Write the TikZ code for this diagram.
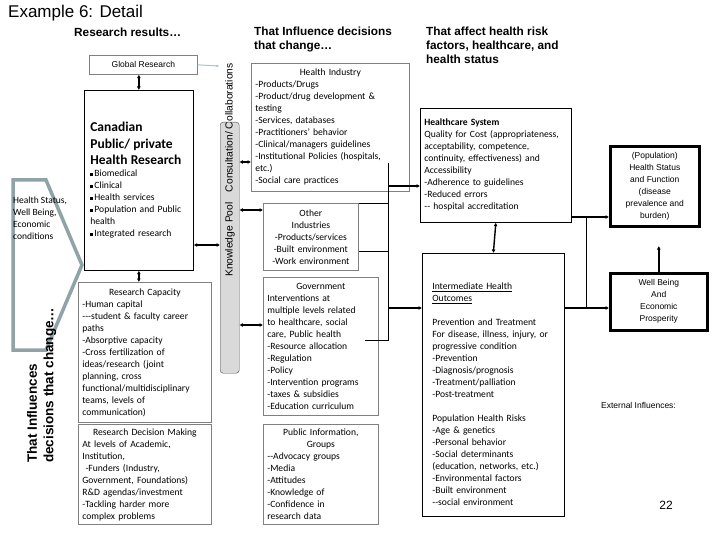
\documentclass[tikz,border=0pt]{standalone}
\usepackage{fontspec}
\newfontfamily\calibri{Carlito}
\newfontfamily\arial{Liberation Sans}
\usetikzlibrary{arrows.meta}

\definecolor{boxgray}{RGB}{128,128,128}
\definecolor{chevgray}{RGB}{143,163,168}
\definecolor{poolfill}{RGB}{217,217,217}
\definecolor{linkblue}{RGB}{170,195,205}

\newcommand{\sq}{\rule[0.25ex]{0.55ex}{0.55ex}\,}
\newcommand{\ctr}[1]{\makebox[\linewidth]{#1}}

\tikzset{
  box/.style={draw=boxgray, line width=0.7pt, anchor=north west, inner sep=4pt,
    align=left, font=\calibri\fontsize{9.6}{12}\selectfont},
  blackbox/.style={box, draw=black},
  bigbox/.style={draw=black, line width=2.6pt, anchor=north west, align=center,
    inner sep=2pt, font=\arial\fontsize{8.5}{12}\selectfont},
  head/.style={anchor=north west, align=left, inner sep=0pt,
    font=\arial\bfseries\fontsize{11.8}{14}\selectfont},
  dbl/.style={{Latex[length=3.5pt,width=4pt]}-{Latex[length=3.5pt,width=4pt]}, line width=1.4pt},
  link/.style={-{Latex[length=3.5pt,width=4pt]}, line width=1.4pt},
  bus/.style={line width=0.8pt},
}

\begin{document}
\begin{tikzpicture}[x=1pt,y=-1pt]
  \useasboundingbox[fill=white] (0,0) rectangle (720,540);

  % titles
  \node[anchor=north west, inner sep=0pt, font=\arial\fontsize{17}{20}\selectfont] (title) at (8,5) {Example 6: Detail};
  \node[head] (headres) at (74,28) {Research results…};
  \node[head] (headinf) at (254,27) {That Influence decisions\\that change…};
  \node[head] (headaff) at (426,27) {That affect health risk\\factors, healthcare, and\\health status};

  % left column
  \draw[chevgray, line width=3.5pt] (13,180) -- (46,180) -- (82,265) -- (46,350) -- (13,350) -- cycle;
  \node[anchor=north west, inner sep=0pt, align=left, font=\calibri\fontsize{9.5}{12}\selectfont] (status) at (13,197)
    {Health Status,\\Well Being,\\Economic\\conditions};
  \node[rotate=90, anchor=north west, inner sep=0pt, align=left, font=\arial\bfseries\fontsize{13.5}{16.5}\selectfont] (infl) at (27,463)
    {That Influences\\decisions that change…};

  \node[box, align=center, minimum width=108pt, minimum height=19pt, inner sep=2pt,
    font=\arial\fontsize{8.5}{10}\selectfont] (global) at (89,55) {Global Research};
  \node[blackbox, text width=97pt, minimum height=180pt, inner sep=6pt] (canada) at (84,90)
    {{\fontsize{13.5}{16.5}\selectfont\bfseries Canadian\\Public/ private\\Health Research\par}
     \sq Biomedical\\\sq Clinical\\\sq Health services\\\sq Population and Public\\health\\\sq Integrated research};
  \node[box, text width=125pt, minimum height=140pt] (rcap) at (78,282)
    {\ctr{Research Capacity}\\-Human capital\\---student \& faculty career\\paths\\-Absorptive capacity\\
     -Cross fertilization of\\ideas/research (joint\\planning, cross\\functional/multidisciplinary\\
     teams, levels of\\communication)};
  \node[box, text width=125pt, minimum height=100pt] (rdec) at (78,424)
    {\ctr{Research Decision Making}\\At levels of Academic,\\Institution,\\\ -Funders (Industry,\\
     Government, Foundations)\\R\&D agendas/investment\\-Tackling harder more\\complex problems};

  % knowledge pool
  \node[draw=black!70, fill=poolfill, rounded corners=3pt, minimum width=19pt, minimum height=251pt,
    anchor=north west, inner sep=0pt] (kpool) at (220,122) {};
  \node[rotate=90, inner sep=0pt, font=\arial\fontsize{10.3}{12}\selectfont] (kptext) at (230,170)
    {Knowledge Pool\quad Consultation/ Collaborations};

  % middle column
  \node[box, text width=150pt, minimum height=128pt] (hind) at (251,63)
    {\ctr{Health Industry}\\-Products/Drugs\\-Product/drug development \&\\testing\\-Services, databases\\
     -Practitioners’ behavior\\-Clinical/managers guidelines\\-Institutional Policies (hospitals,\\
     etc.)\\-Social care practices};
  \node[box, align=center, text width=87pt, minimum height=67pt] (other) at (263,203)
    {Other\\Industries\\-Products/services\\-Built environment\\-Work environment};
  \node[box, text width=107pt, minimum height=138pt] (gov) at (263,277)
    {\ctr{Government}\\Interventions at\\multiple levels related\\to healthcare, social\\care, Public health\\
     -Resource allocation\\-Regulation\\-Policy\\-Intervention programs\\-taxes \& subsidies\\
     -Education curriculum};
  \node[box, text width=107pt, minimum height=100pt] (pub) at (263,424)
    {\ctr{Public Information,}\\\ctr{Groups}\\--Advocacy groups\\-Media\\-Attitudes\\-Knowledge of\\
     -Confidence in\\research data};

  % right column
  \node[blackbox, text width=143pt, minimum height=114pt] (hcare) at (420,108)
    {\textbf{Healthcare System}\\Quality for Cost (appropriateness,\\acceptability, competence,\\
     continuity, effectiveness) and\\Accessibility\\-Adherence to guidelines\\-Reduced errors\\
     -- hospital accreditation};
  \node[blackbox, inner xsep=10pt, text width=122pt, minimum height=263pt] (inter) at (422,253)
    {\rule{0pt}{25pt}\underline{Intermediate Health}\\\underline{Outcomes}\\[12pt]Prevention and Treatment\\
     For disease, illness, injury, or\\progressive condition\\-Prevention\\-Diagnosis/prognosis\\
     -Treatment/palliation\\-Post-treatment\\[12pt]Population Health Risks\\-Age \& genetics\\
     -Personal behavior\\-Social determinants\\(education,  networks, etc.)\\-Environmental factors\\
     -Built environment\\--social environment};
  \node[bigbox, minimum width=89pt, minimum height=80pt] (pop) at (609,145)
    {(Population)\\Health Status\\and Function\\(disease\\prevalence and\\burden)};
  \node[bigbox, minimum width=97pt, minimum height=57pt] (wb) at (609,272)
    {Well Being\\And\\Economic\\Prosperity};
  \node[anchor=west, inner sep=0pt, font=\arial\fontsize{8.5}{10}\selectfont] (ext) at (601,405) {External Influences:};
  \node[inner sep=0pt, font=\arial\fontsize{12}{14}\selectfont] (page) at (666,505) {22};

  % connectors, left
  \coordinate (globend) at (219,66);
  \draw[linkblue, line width=1pt, -{Latex[length=2.5pt,width=3pt]}] (global.east) -- (globend);
  \draw[dbl] (global.south -| canada.north) -- (canada.north);
  \draw[dbl] (canada.south) -- (canada.south |- rcap.north);
  \draw[dbl] (canada.east |- 0,245) -- (kpool.west |- 0,245);
  \draw[dbl] (kpool.east |- 0,162) -- (hind.west |- 0,162);
  \draw[dbl] (kpool.east |- 0,210) -- (other.west |- 0,210);
  \draw[dbl] (kpool.east |- 0,325) -- (gov.west |- 0,325);

  % connectors, middle
  \coordinate (bustop) at (388,163);
  \coordinate (busbot) at (388,340);
  \coordinate (govend) at (365,340);
  \draw[bus] (bustop) -- (busbot) -- (govend);
  \draw[bus] (other.north east) -- (bustop |- other.north east);
  \draw[bus] (other.east |- 0,251) -- (bustop |- 0,251);
  \draw[link] (bustop |- 0,186) -- (hcare.west |- 0,186);
  \draw[link] (bustop |- 0,308) -- (inter.west |- 0,308);

  % connectors, right
  \coordinate (rbus) at (586,217);
  \coordinate (popgap) at (657,246);
  \draw[link] (hcare.east |- rbus) -- (pop.west |- rbus);
  \draw[bus] (rbus) -- (rbus |- 0,308);
  \draw[link] (inter.east |- 0,308) -- (wb.west |- 0,308);
  \draw[dbl] (hcare.south) -- (inter.north);
  \draw[link] (wb.north) -- (wb.north |- popgap);
\end{tikzpicture}
\end{document}
